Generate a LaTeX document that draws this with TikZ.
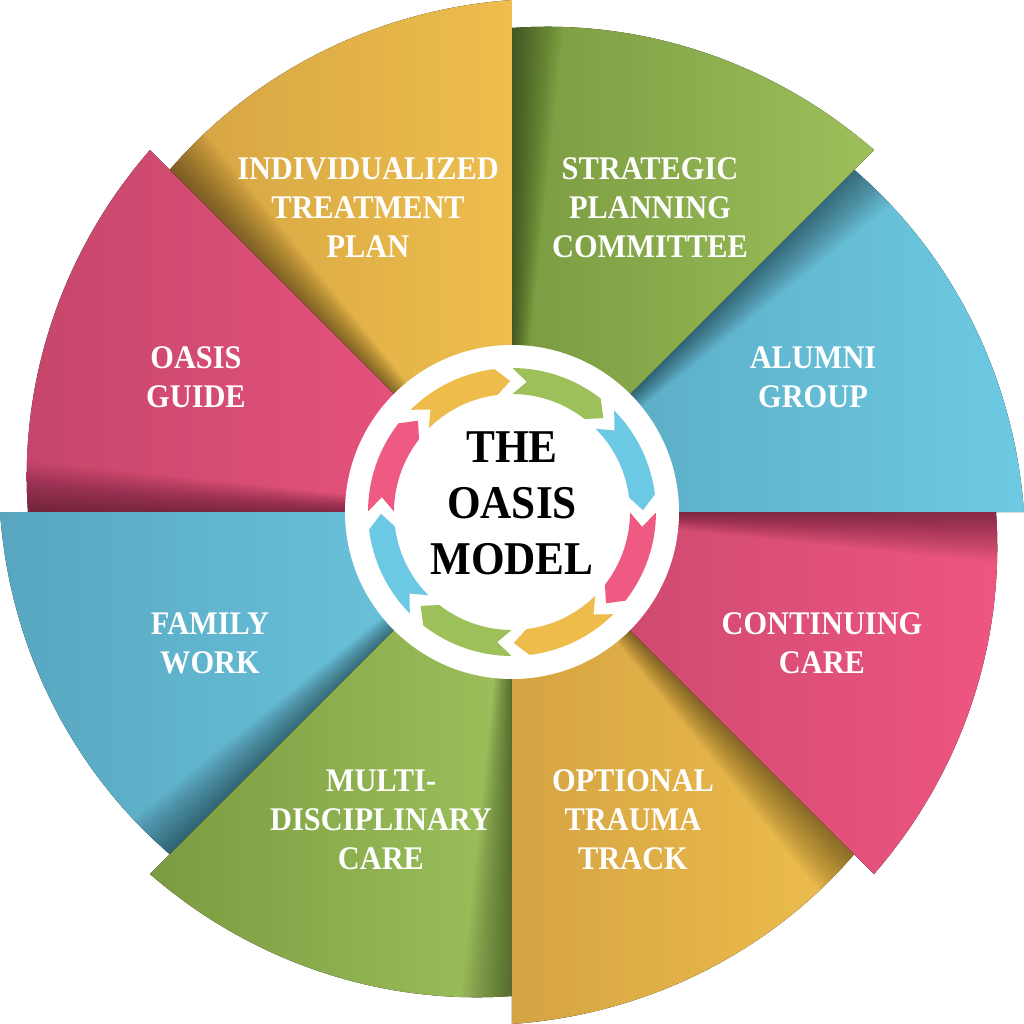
\documentclass[tikz,border=0pt]{standalone}
\usepackage{fontspec}
\setmainfont{Liberation Serif}[FakeStretch=0.92]
\usetikzlibrary{calc}
\definecolor{bluA}{HTML}{58A6BF}
\definecolor{bluB}{HTML}{6DCAE2}
\definecolor{grnA}{HTML}{7A9B40}
\definecolor{grnB}{HTML}{9DC05C}
\definecolor{ylwA}{HTML}{D5A443}
\definecolor{ylwB}{HTML}{EDBE4D}
\definecolor{pnkA}{HTML}{C6466B}
\definecolor{pnkB}{HTML}{EE5680}
\definecolor{bluR}{HTML}{6CC9E3}
\definecolor{grnR}{HTML}{9DC05B}
\definecolor{ylwR}{HTML}{EEBC4A}
\definecolor{pnkR}{HTML}{EE5A82}
\tikzset{
  lbl/.style={text=white, align=center, font=\bfseries\fontsize{16.5}{19.5}\selectfont},
  ttl/.style={text=black, align=center, font=\bfseries\fontsize{23.5}{28}\selectfont},
  shadow/.style={fill=black, opacity=0.02},
}

\begin{document}
\begin{tikzpicture}[x=0.5pt, y=0.5pt]
\useasboundingbox (-512,-512) rectangle (512,512);
\fill[white] (-512,-512) rectangle (512,512);

% petals, each one 45 degrees wide
\foreach \b/\ca/\cb in {0/bluA/bluB, 45/grnA/grnB, 90/ylwA/ylwB, 135/pnkA/pnkB, 180/bluA/bluB, 225/grnA/grnB, 270/ylwA/ylwB, 315/pnkA/pnkB}{
  \pgfmathsetmacro\ee{\b+45}
  \fill[left color=\ca, right color=\cb] (0,0) -- plot[domain=\b:\ee, samples=40] ({(512-28*(\x-\b)/45)*cos(\x)}, {(512-28*(\x-\b)/45)*sin(\x)}) -- cycle;
  \begin{scope}
    \clip (0,0) -- plot[domain=\b:\ee, samples=40] ({(512-28*(\x-\b)/45)*cos(\x)}, {(512-28*(\x-\b)/45)*sin(\x)}) -- cycle;
    \foreach \k in {1,...,24}
      \fill[shadow] (0,0) -- ({\ee-0.25*\k}:540) -- ({\ee+1}:540) -- cycle;
  \end{scope}
}

% hub with the arrow ring
\fill[white] (0,0) circle[radius=167];
\foreach \b/\c in {0/bluR, 45/grnR, 90/ylwR, 135/pnkR, 180/bluR, 225/grnR, 270/ylwR, 315/pnkR}{
  \fill[\c] ({\b+7}:144) arc[start angle=\b+7, end angle=\b+44.8, radius=144]
    -- ({\b+38.5}:131) -- ({\b+44.8}:118)
    arc[start angle=\b+44.8, end angle=\b+7, radius=118]
    -- ({\b+0.8}:131) -- cycle;
}
\node[ttl] (title) at (0,9) {THE\\OASIS\\MODEL};

% labels
\node[lbl] (plan) at (-144,304) {INDIVIDUALIZED\\TREATMENT\\PLAN};
\node[lbl] (strat) at (138,304) {STRATEGIC\\PLANNING\\COMMITTEE};
\node[lbl] (alumni) at (301,135) {ALUMNI\\GROUP};
\node[lbl] (guide) at (-316,135) {OASIS\\GUIDE};
\node[lbl] (family) at (-302,-131) {FAMILY\\WORK};
\node[lbl] (multi) at (-131,-308) {MULTI-\\DISCIPLINARY\\CARE};
\node[lbl] (trauma) at (121,-308) {OPTIONAL\\TRAUMA\\TRACK};
\node[lbl] (care) at (310,-131) {CONTINUING\\CARE};
\end{tikzpicture}
\end{document}
